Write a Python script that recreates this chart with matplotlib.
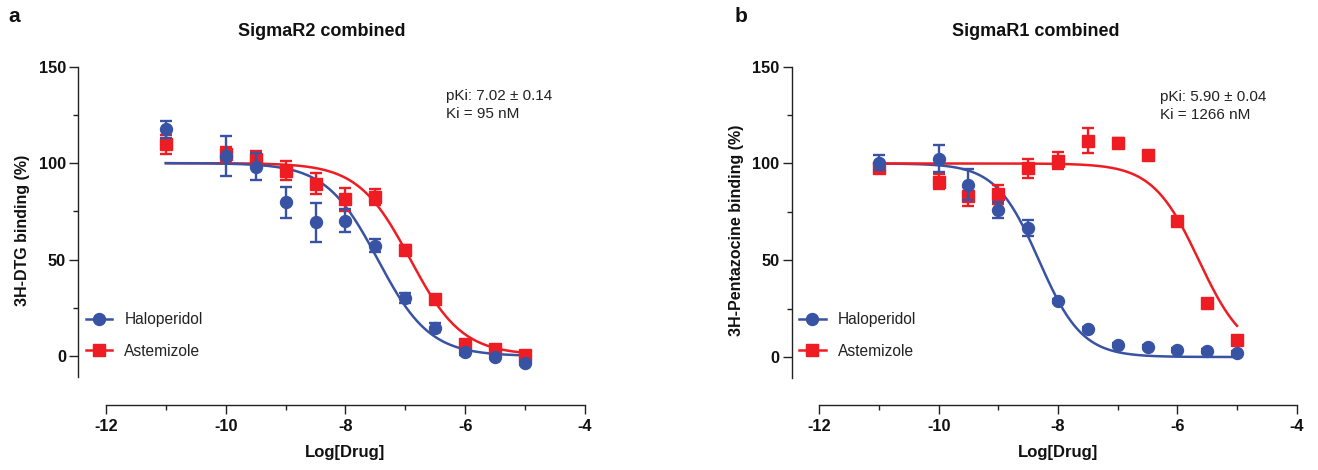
import numpy as np
import matplotlib
matplotlib.use("Agg")
import matplotlib.pyplot as plt
from matplotlib.lines import Line2D
from matplotlib.font_manager import FontProperties

plt.rcParams['font.family'] = ['Liberation Sans', 'DejaVu Sans']
plt.rcParams['axes.unicode_minus'] = False

# ---------------- data ----------------
log_dose = [-11, -10, -9.5, -9, -8.5, -8, -7.5, -7, -6.5, -6, -5.5, -5]

# Panel a: SigmaR2 combined (3H-DTG)
halo_r2 = [117.5, 103.6, 98.0, 79.8, 69.3, 70.1, 57.2, 30.0, 14.7, 2.2, -0.5, -3.6]
halo_r2_err = [4.5, 10.5, 7.0, 8.0, 10.0, 6.0, 3.5, 2.5, 2.5, 1.5, 1.0, 1.0]
aste_r2 = [109.8, 104.5, 102.4, 96.0, 89.4, 81.3, 82.4, 54.9, 29.7, 6.2, 3.5, 0.5]
aste_r2_err = [5.0, 4.0, 4.0, 5.0, 5.5, 6.0, 4.0, 2.5, 2.0, 2.0, 1.0, 1.0]

# Panel b: SigmaR1 combined (3H-Pentazocine)
halo_r1 = [100.4, 102.5, 88.9, 75.9, 66.7, 28.9, 14.4, 6.0, 5.1, 3.7, 3.0, 2.2]
halo_r1_err = [4.0, 7.0, 8.0, 4.0, 4.0, 1.0, 1.0, 1.0, 1.0, 1.0, 1.0, 1.0]
aste_r1 = [97.5, 90.6, 83.0, 84.0, 97.5, 101.5, 111.7, 110.8, 104.2, 70.4, 28.1, 8.9]
aste_r1_err = [2.0, 4.0, 5.0, 5.0, 5.0, 4.5, 6.5, 2.5, 2.0, 2.0, 1.0, 1.0]

# fitted 4-parameter logistic curves: (top, bottom, logIC50, hill)
fit_halo_r2 = (100.0, 0.0, -7.46, 1.0)
fit_aste_r2 = (100.0, 0.5, -6.92, 1.0)
fit_halo_r1 = (100.0, 0.0, -8.32, 1.2)
fit_aste_r1 = (100.0, 0.0, -5.64, 1.12)

series_names = ["Haloperidol", "Astemizole"]
titles = ["SigmaR2 combined", "SigmaR1 combined"]
ylabels = ["3H-DTG binding (%)", "3H-Pentazocine binding (%)"]
annotations = ["pKi: 7.02 \u00b1 0.14\nKi = 95 nM", "pKi: 5.90 \u00b1 0.04\nKi = 1266 nM"]
panel_letters = ["a", "b"]

BLUE = "#3953A4"
RED = "#EE1D23"

W, H = 1318, 470
fig = plt.figure(figsize=(W / 100, H / 100), dpi=100)


def add_ax(left, right, top, bottom):
    return fig.add_axes([left / W, 1 - bottom / H, (right - left) / W, (bottom - top) / H])


def four_pl(x, p):
    top, bottom, c, h = p
    return bottom + (top - bottom) / (1 + 10 ** (h * (x - c)))


tick_font = dict(family='Liberation Sans', weight='bold', size=11.8)

panels = [
    dict(box=(78, 585, 66.7, 405), xlim=(-12.467, -4), ylim=(-25.4, 150),
         halo=(halo_r2, halo_r2_err, fit_halo_r2), aste=(aste_r2, aste_r2_err, fit_aste_r2),
         red_on_top=False),
    dict(box=(791.7, 1296.7, 66.7, 405), xlim=(-12.4625, -4), ylim=(-24.8, 150),
         halo=(halo_r1, halo_r1_err, fit_halo_r1), aste=(aste_r1, aste_r1_err, fit_aste_r1),
         red_on_top=True),
]

xs = np.linspace(log_dose[0], log_dose[-1], 400)

for i, pnl in enumerate(panels):
    ax = add_ax(*pnl['box'])
    ax.set_xlim(*pnl['xlim'])
    ax.set_ylim(*pnl['ylim'])
    for s in ['top', 'right']:
        ax.spines[s].set_visible(False)
    ax.spines['left'].set_bounds(-10.7, 150)
    ax.spines['bottom'].set_bounds(-12, -4)
    for s in ['left', 'bottom']:
        ax.spines[s].set_linewidth(1.0)
        ax.spines[s].set_color('#222222')

    ax.set_yticks([0, 50, 100, 150])
    ax.set_yticks([25, 75, 125], minor=True)
    ax.set_xticks([-12, -10, -8, -6, -4])
    ax.set_xticks([-11, -9, -7, -5], minor=True)
    ax.tick_params(which='major', direction='out', length=6.7, width=1.0, color='#222222', pad=2)
    ax.tick_params(which='minor', direction='out', length=3.6, width=1.0, color='#222222')
    ax.tick_params(axis='x', which='major', pad=3.5)
    for lab in ax.get_xticklabels() + ax.get_yticklabels():
        lab.set_fontproperties(FontProperties(**tick_font))
        lab.set_color('#111111')

    h_y, h_e, h_fit = pnl['halo']
    a_y, a_e, a_fit = pnl['aste']
    zc_blue = 3 if not pnl['red_on_top'] else 2
    zc_red = 2 if not pnl['red_on_top'] else 3
    ax.plot(xs, four_pl(xs, a_fit), color=RED, lw=1.8, zorder=zc_red, clip_on=False)
    ax.plot(xs, four_pl(xs, h_fit), color=BLUE, lw=1.8, zorder=zc_blue, clip_on=False)

    ax.errorbar(log_dose, a_y, yerr=a_e, fmt='none', ecolor=RED, elinewidth=1.7,
                capsize=4.6, capthick=1.7, zorder=4)
    ax.plot(log_dose, a_y, ls='none', marker='s', ms=8.0, color=RED, mec=RED, zorder=5)
    ax.errorbar(log_dose, h_y, yerr=h_e, fmt='none', ecolor=BLUE, elinewidth=1.7,
                capsize=4.6, capthick=1.7, zorder=6)
    ax.plot(log_dose, h_y, ls='none', marker='o', ms=8.6, color=BLUE, mec=BLUE, zorder=7)

    handles = [Line2D([], [], color=BLUE, lw=1.8, marker='o', ms=8.6),
               Line2D([], [], color=RED, lw=1.8, marker='s', ms=8.0)]
    axw = pnl['box'][1] - pnl['box'][0]
    axh = pnl['box'][3] - pnl['box'][2]
    leg = ax.legend(handles, series_names, loc='center left',
                    bbox_to_anchor=(7.5 / axw, (405 - 335.5) / axh),
                    frameon=False, borderpad=0, borderaxespad=0, handlelength=1.7,
                    handletextpad=0.8, labelspacing=1.05,
                    prop=dict(family='Liberation Sans', size=11.2))
    for t in leg.get_texts():
        t.set_color('#222222')

    left = pnl['box'][0]
    # y label
    fig.text((left - 55) / W, 1 - 230 / H, ylabels[i], rotation=90, ha='center', va='center',
             fontsize=11.5, fontweight='bold', color='#111111')
    # x label
    fig.text((left + 28 + pnl['box'][1]) / 2 / W, 1 - 453 / H, "Log[Drug]", ha='center',
             va='center', fontsize=12, fontweight='bold', color='#111111')

# Titles, panel letters and annotations
fig.text(322 / W, 1 - 31 / H, titles[0], ha='center', va='center', fontsize=13,
         fontweight='bold', color='#111111')
fig.text(1036 / W, 1 - 31 / H, titles[1], ha='center', va='center', fontsize=13,
         fontweight='bold', color='#111111')
fig.text(8 / W, 1 - 17 / H, panel_letters[0], ha='left', va='center', fontsize=15,
         fontweight='bold', color='#111111')
fig.text(735 / W, 1 - 17 / H, panel_letters[1], ha='left', va='center', fontsize=15,
         fontweight='bold', color='#111111')
fig.text(446 / W, 1 - 105 / H, annotations[0], ha='left', va='center', fontsize=11,
         linespacing=1.3, color='#222222')
fig.text(1160 / W, 1 - 106 / H, annotations[1], ha='left', va='center', fontsize=11,
         linespacing=1.3, color='#222222')

fig.savefig("out.png", dpi=100)
